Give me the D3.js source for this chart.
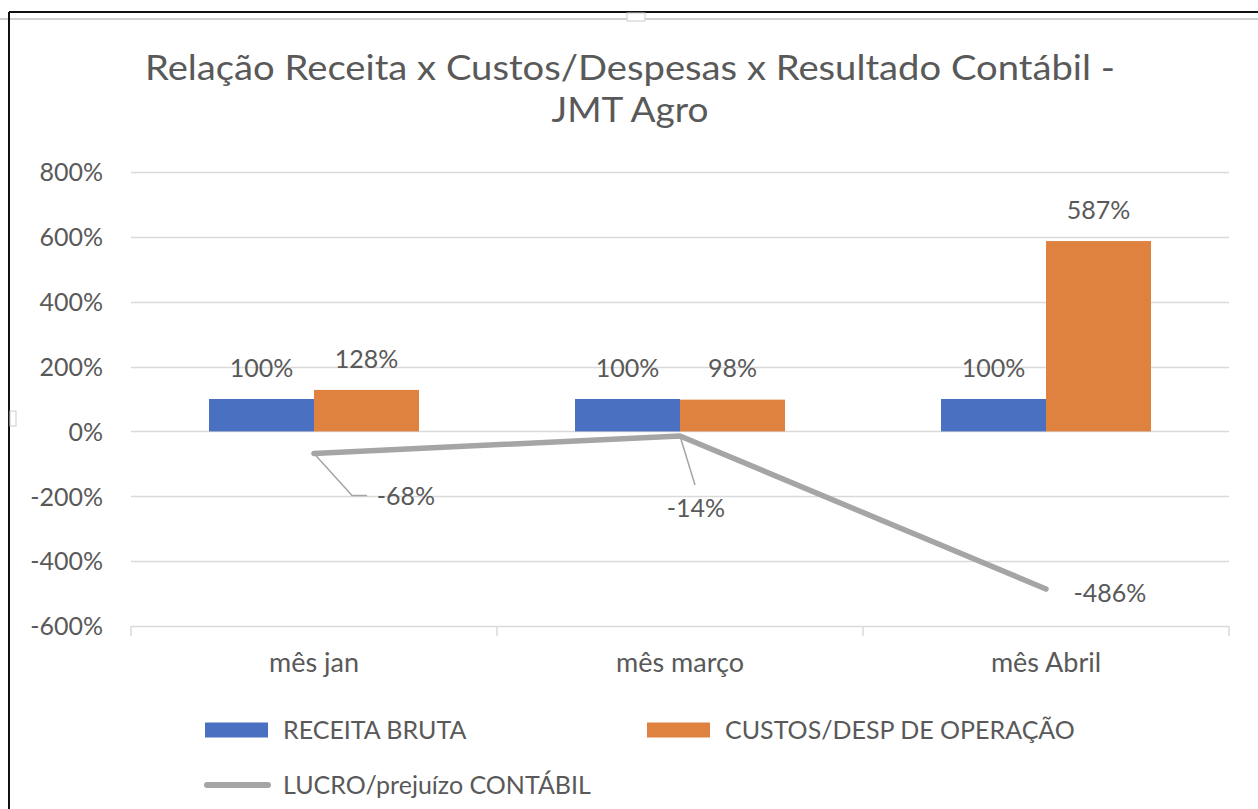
<!DOCTYPE html>
<html>
<head>
<meta charset="utf-8">
<script src="https://cdn.jsdelivr.net/npm/d3@7"></script>
<style>
  html, body { margin: 0; padding: 0; background: #fff; }
  svg { display: block; }
  text { font-family: Lato, "Open Sans", sans-serif; fill: #595959; }
</style>
</head>
<body>
<script>
// ---- data ----
const categories = ["mês jan", "mês março", "mês Abril"];
const receitaBruta = [100, 100, 100];
const custosDesp = [128, 98, 587];
const lucroPrejuizo = [-68, -14, -486];
const yTicks = [-600, -400, -200, 0, 200, 400, 600, 800];
const seriesNames = ["RECEITA BRUTA", "CUSTOS/DESP DE OPERAÇÃO", "LUCRO/prejuízo CONTÁBIL"];
const titleLines = ["Relação Receita x Custos/Despesas x Resultado Contábil -", "JMT Agro"];

// ---- layout / style ----
const W = 1258, H = 809;
const plot = { left: 131, right: 1229, top: 172, bottom: 626 };
const colors = { blue: "#4a70c1", orange: "#df8240", gray: "#a5a5a5", grid: "#d9d9d9", text: "#595959" };
const fs = 25;
// manual label placement for line labels (dx, dy from point), leader points
const lineLabelCfg = [
  { dx: 92, dy: 43, leader: [[0, 0], [38, 42], [53, 42]] },
  { dx: 16, dy: 72, leader: [[0, 0], [15, 49]] },
  { dx: 64, dy: 4, leader: null }
];

const svg = d3.select("body").append("svg").attr("width", W).attr("height", H);
svg.append("rect").attr("width", W).attr("height", H).attr("fill", "#fff");

// frame decorations
svg.append("line").attr("x1", 0).attr("x2", W).attr("y1", 19).attr("y2", 19).attr("stroke", "#d0d0d0").attr("stroke-width", 2);
svg.append("line").attr("x1", 9).attr("x2", W).attr("y1", 12).attr("y2", 12).attr("stroke", "#111").attr("stroke-width", 2);
svg.append("line").attr("x1", 9).attr("x2", 9).attr("y1", 12).attr("y2", H).attr("stroke", "#111").attr("stroke-width", 2);
svg.append("rect").attr("x", 627).attr("y", 13).attr("width", 18).attr("height", 8).attr("fill", "#fff").attr("stroke", "#ccc").attr("stroke-width", 1);
svg.append("rect").attr("x", 10).attr("y", 411).attr("width", 6).attr("height", 15).attr("fill", "#fff").attr("stroke", "#ccc").attr("stroke-width", 1);

// title
svg.append("text").attr("x", W / 2 + 1).attr("y", 80).attr("text-anchor", "middle")
  .attr("font-size", 34).attr("textLength", 970).attr("lengthAdjust", "spacingAndGlyphs")
  .style("fill", colors.text).text(titleLines[0]);
svg.append("text").attr("x", W / 2 + 1).attr("y", 122).attr("text-anchor", "middle")
  .attr("font-size", 34).attr("textLength", 157).attr("lengthAdjust", "spacingAndGlyphs")
  .style("fill", colors.text).text(titleLines[1]);

// scales
const x0 = d3.scaleBand().domain(categories).range([plot.left, plot.right]).paddingInner(0).paddingOuter(0);
const x1 = d3.scaleBand().domain([0, 1]).range([0, x0.bandwidth()]).paddingInner(0).paddingOuter(0.743);
const y = d3.scaleLinear().domain([-600, 800]).range([plot.bottom, plot.top]);

// gridlines
svg.append("g").selectAll("line").data(yTicks).join("line")
  .attr("x1", plot.left).attr("x2", plot.right)
  .attr("y1", d => Math.round(y(d)) + 0.5).attr("y2", d => Math.round(y(d)) + 0.5)
  .attr("stroke", colors.grid).attr("stroke-width", 1.5);

// y axis labels
const yAxis = d3.axisLeft(y).tickValues(yTicks).tickFormat(d => d + "%").tickSize(0).tickPadding(0);
const gy = svg.append("g").attr("transform", `translate(103,0)`).call(yAxis);
gy.select(".domain").remove();
gy.selectAll("text").attr("font-size", fs).attr("font-family", "Lato, sans-serif").style("fill", colors.text).attr("dy", "0.35em");

// x axis (category ticks)
const boundaries = categories.map(c => x0(c)).concat([plot.right]);
svg.append("g").selectAll("line").data(boundaries).join("line")
  .attr("x1", d => d).attr("x2", d => d).attr("y1", y(-600)).attr("y2", y(-600) + 10)
  .attr("stroke", colors.grid).attr("stroke-width", 1.5);
const xAxis = d3.axisBottom(x0).tickSize(0).tickPadding(0);
const gx = svg.append("g").attr("transform", `translate(0,663)`).call(xAxis);
gx.select(".domain").remove();
gx.selectAll("text").attr("font-size", 27).attr("font-family", "Lato, sans-serif").style("fill", colors.text).attr("dy", "0.35em").attr("y", 0);

// bars
const barSeries = [receitaBruta, custosDesp];
const barColors = [colors.blue, colors.orange];
barSeries.forEach((vals, si) => {
  const g = svg.append("g");
  g.selectAll("rect").data(vals).join("rect")
    .attr("x", (d, i) => x0(categories[i]) + x1(si))
    .attr("width", x1.bandwidth())
    .attr("y", d => y(Math.max(0, d)))
    .attr("height", d => Math.abs(y(d) - y(0)))
    .attr("fill", barColors[si]);
  g.selectAll("text").data(vals).join("text")
    .attr("x", (d, i) => x0(categories[i]) + x1(si) + x1.bandwidth() / 2)
    .attr("y", d => y(d) - 31)
    .attr("dy", "0.35em").attr("text-anchor", "middle")
    .attr("font-size", fs).style("fill", colors.text)
    .text(d => d + "%");
});

// line
const cx = c => x0(c) + x0.bandwidth() / 2;
const lineGen = d3.line().x((d, i) => cx(categories[i])).y(d => y(d));
svg.append("path").datum(lucroPrejuizo).attr("d", lineGen)
  .attr("fill", "none").attr("stroke", colors.gray).attr("stroke-width", 5.5)
  .attr("stroke-linecap", "round").attr("stroke-linejoin", "round");

// line labels + leaders
lucroPrejuizo.forEach((v, i) => {
  const px = cx(categories[i]), py = y(v);
  const cfg = lineLabelCfg[i];
  if (cfg.leader) {
    svg.append("path").attr("d", d3.line()(cfg.leader.map(p => [px + p[0], py + p[1]])))
      .attr("fill", "none").attr("stroke", colors.gray).attr("stroke-width", 1.5);
  }
  svg.append("text").attr("x", px + cfg.dx).attr("y", py + cfg.dy).attr("dy", "0.35em")
    .attr("text-anchor", "middle").attr("font-size", fs).style("fill", colors.text).text(v + "%");
});

// legend
const legend = svg.append("g");
const legItems = [
  { name: seriesNames[0], type: "rect", color: colors.blue, x: 205, y: 730 },
  { name: seriesNames[1], type: "rect", color: colors.orange, x: 647, y: 730 },
  { name: seriesNames[2], type: "line", color: colors.gray, x: 205, y: 785 }
];
legItems.forEach(it => {
  if (it.type === "rect") {
    legend.append("rect").attr("x", it.x).attr("y", it.y - 7.5).attr("width", 63).attr("height", 15).attr("fill", it.color);
  } else {
    legend.append("line").attr("x1", it.x + 2).attr("x2", it.x + 63).attr("y1", it.y).attr("y2", it.y)
      .attr("stroke", it.color).attr("stroke-width", 6).attr("stroke-linecap", "round");
  }
  legend.append("text").attr("x", it.x + 78).attr("y", it.y).attr("dy", "0.35em")
    .attr("font-size", fs).style("fill", colors.text).text(it.name);
});
</script>
</body>
</html>
